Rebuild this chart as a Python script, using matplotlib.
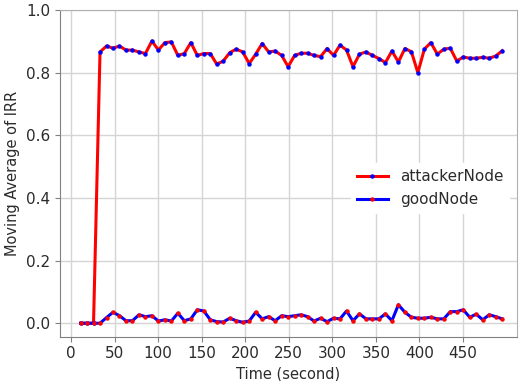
import numpy as np
import matplotlib
matplotlib.use("Agg")
import matplotlib.pyplot as plt

# time stamps (seconds), evenly spaced samples
times = np.linspace(11, 495, 66)

attacker = [0.0, 0.0, 0.0,
            0.866, 0.885, 0.878, 0.885, 0.872, 0.872, 0.866, 0.861, 0.901, 0.872,
            0.896, 0.898, 0.855, 0.861, 0.896, 0.855, 0.861, 0.861, 0.827, 0.837,
            0.864, 0.875,
            0.866, 0.829, 0.859, 0.893, 0.866, 0.869, 0.855, 0.819, 0.855, 0.862,
            0.862, 0.855, 0.851, 0.877, 0.855, 0.888, 0.872, 0.819, 0.859, 0.866,
            0.855, 0.845,
            0.832, 0.869, 0.834, 0.877, 0.867, 0.800, 0.875, 0.896, 0.859, 0.875,
            0.878, 0.837, 0.850, 0.846, 0.846, 0.849, 0.846, 0.853, 0.870]

good = [0.0, 0.0, 0.0, 0.0,
        0.018, 0.035, 0.024, 0.008, 0.008, 0.027, 0.021, 0.024, 0.007, 0.011,
        0.007, 0.032, 0.008, 0.014, 0.043, 0.039, 0.011, 0.005, 0.004,
        0.016, 0.008, 0.003, 0.007, 0.035, 0.014, 0.021, 0.008, 0.024, 0.021,
        0.024, 0.027, 0.021, 0.007, 0.016, 0.005, 0.016, 0.014, 0.039, 0.008,
        0.030, 0.014,
        0.014, 0.014, 0.030, 0.008, 0.059, 0.035, 0.019, 0.016, 0.016, 0.019,
        0.014, 0.014, 0.037, 0.037, 0.043, 0.019, 0.029, 0.011, 0.027, 0.021,
        0.014]

xticks = list(range(0, 500, 50))
yticks = [0.0, 0.2, 0.4, 0.6, 0.8, 1.0]

text_color = "#2b2b2b"
fig = plt.figure(figsize=(5.19, 3.81), dpi=100)
ax = fig.add_axes([60 / 519, 1 - 336.7 / 381, (517 - 60) / 519, (336.7 - 10) / 381])

ax.plot(times, attacker, color="red", linewidth=2.2, marker="o", markersize=2.2,
        markerfacecolor="blue", markeredgecolor="blue", label="attackerNode", zorder=3)
ax.plot(times, good, color="blue", linewidth=2.2, marker="o", markersize=2.2,
        markerfacecolor="red", markeredgecolor="red", label="goodNode", zorder=4)

ax.set_xlim(-12.6, 512)
ax.set_ylim(-0.043, 1.0)
ax.set_xticks(xticks)
ax.set_yticks(yticks)
ax.grid(True, color="#d5d5d5", linewidth=1)
ax.set_axisbelow(True)
for s in ax.spines.values():
    s.set_color("#b0b0b0")
ax.spines["left"].set_color("#808080")
ax.spines["bottom"].set_color("#808080")
ax.tick_params(colors="#808080", labelcolor=text_color, labelsize=11, length=3.5)
ax.set_xlabel("Time (second)", fontsize=10.5, color=text_color)
ax.set_ylabel("Moving Average of IRR", fontsize=10.5, color=text_color)

leg = ax.legend(loc="center right", bbox_to_anchor=(1, 0.455), fontsize=11,
                frameon=True, fancybox=False)
leg.get_frame().set_edgecolor("white")
leg.get_frame().set_alpha(1)
for t in leg.get_texts():
    t.set_color(text_color)

fig.savefig("out.png", dpi=100)
